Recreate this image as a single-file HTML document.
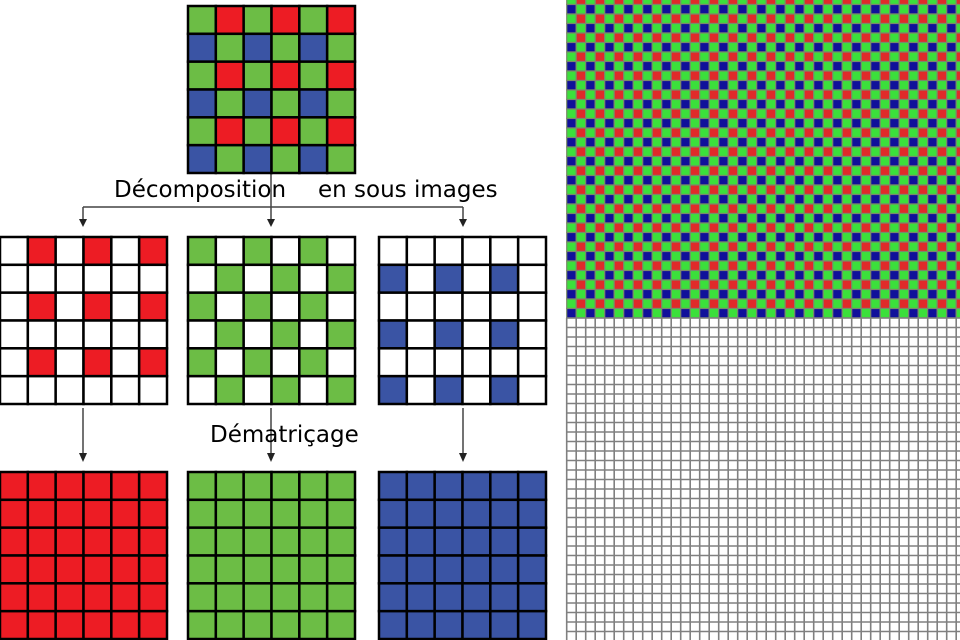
<!DOCTYPE html>
<html><head><meta charset="utf-8"><style>
html,body{margin:0;padding:0;background:#fff;width:960px;height:640px;overflow:hidden}
svg{display:block}
text{font-family:"DejaVu Sans","Liberation Sans",sans-serif;font-size:23px;fill:#000}
</style></head><body>
<svg id="s" width="960" height="640" viewBox="0 0 960 640">
<g id="arrows" stroke="#444" stroke-width="1.5" fill="none">
<line x1="271" y1="173" x2="271" y2="222"/>
<line x1="83" y1="207" x2="463" y2="207"/>
<line x1="83" y1="207" x2="83" y2="222"/>
<line x1="463" y1="207" x2="463" y2="222"/>
<line x1="83" y1="408" x2="83" y2="456"/>
<line x1="271" y1="408" x2="271" y2="456"/>
<line x1="463" y1="408" x2="463" y2="456"/>
</g>
<g fill="#222">
<polygon points="79,219 87,219 83,227"/>
<polygon points="267,219 275,219 271,227"/>
<polygon points="459,219 467,219 463,227"/>
<polygon points="79,453 87,453 83,462"/>
<polygon points="267,453 275,453 271,462"/>
<polygon points="459,453 467,453 463,462"/>
</g>
<rect x="286" y="176" width="30" height="24" fill="#fff"/>
<text x="114" y="197">Décomposition</text>
<text x="318" y="197">en sous images</text>
<text x="210" y="442">Dématriçage</text>
</svg>
<script>
const svg=document.getElementById('s');
const NS='http://www.w3.org/2000/svg';
const R='#ed1c24',G='#6cbd45',B='#3a54a4',W='#ffffff';
function bayer(r,c){return r%2===0?(c%2===0?'G':'R'):(c%2===0?'B':'G');}
function grid(name,x0,y0,fn){
  const g=document.createElementNS(NS,'g');
  
  
  const cs=167/6;
  for(let r=0;r<6;r++)for(let c=0;c<6;c++){
    const rc=document.createElementNS(NS,'rect');
    rc.setAttribute('x',x0+c*cs);rc.setAttribute('y',y0+r*cs);
    rc.setAttribute('width',cs);rc.setAttribute('height',cs);
    rc.setAttribute('fill',fn(r,c));rc.setAttribute('stroke','#000');rc.setAttribute('stroke-width','2.5');
    g.appendChild(rc);
  }
  svg.appendChild(g);
}
grid('bayer-mosaic',188,6,(r,c)=>({G:G,R:R,B:B})[bayer(r,c)]);
grid('red-subimage',0,237,(r,c)=>bayer(r,c)==='R'?R:W);
grid('green-subimage',188,237,(r,c)=>bayer(r,c)==='G'?G:W);
grid('blue-subimage',379,237,(r,c)=>bayer(r,c)==='B'?B:W);
grid('red-full',0,472,()=>R);
grid('green-full',188,472,()=>G);
grid('blue-full',379,472,()=>B);
const rp=document.createElementNS(NS,'g');


const bg=document.createElementNS(NS,'rect');
bg.setAttribute('x',566);bg.setAttribute('y',0);bg.setAttribute('width',394);bg.setAttribute('height',640);bg.setAttribute('fill','#fff');
rp.appendChild(bg);
const cs=9.5,x0=566.7,y0=318-34*9.5;
for(let r=0;r<34;r++)for(let c=0;c<42;c++){
  const t=r%2===0?(c%2===0?'#3be03b':'#e02a2a'):(c%2===0?'#10109a':'#3be03b');
  const rc=document.createElementNS(NS,'rect');
  rc.setAttribute('x',x0+c*cs);rc.setAttribute('y',y0+r*cs);rc.setAttribute('width',cs);rc.setAttribute('height',cs);
  rc.setAttribute('fill',t);rc.setAttribute('stroke','#7a8a6a');rc.setAttribute('stroke-width','1.2');
  rp.appendChild(rc);
}
for(let k=0;k<=42;k++){
  const l=document.createElementNS(NS,'line');
  l.setAttribute('x1',x0+k*cs);l.setAttribute('x2',x0+k*cs);l.setAttribute('y1',318);l.setAttribute('y2',640);
  l.setAttribute('stroke','#808080');l.setAttribute('stroke-width','1.6');rp.appendChild(l);
}
for(let k=0;k<=34;k++){
  const l=document.createElementNS(NS,'line');
  l.setAttribute('x1',566);l.setAttribute('x2',960);l.setAttribute('y1',318+k*cs);l.setAttribute('y2',318+k*cs);
  l.setAttribute('stroke','#808080');l.setAttribute('stroke-width','1.6');rp.appendChild(l);
}
svg.appendChild(rp);
</script>
</body></html>
